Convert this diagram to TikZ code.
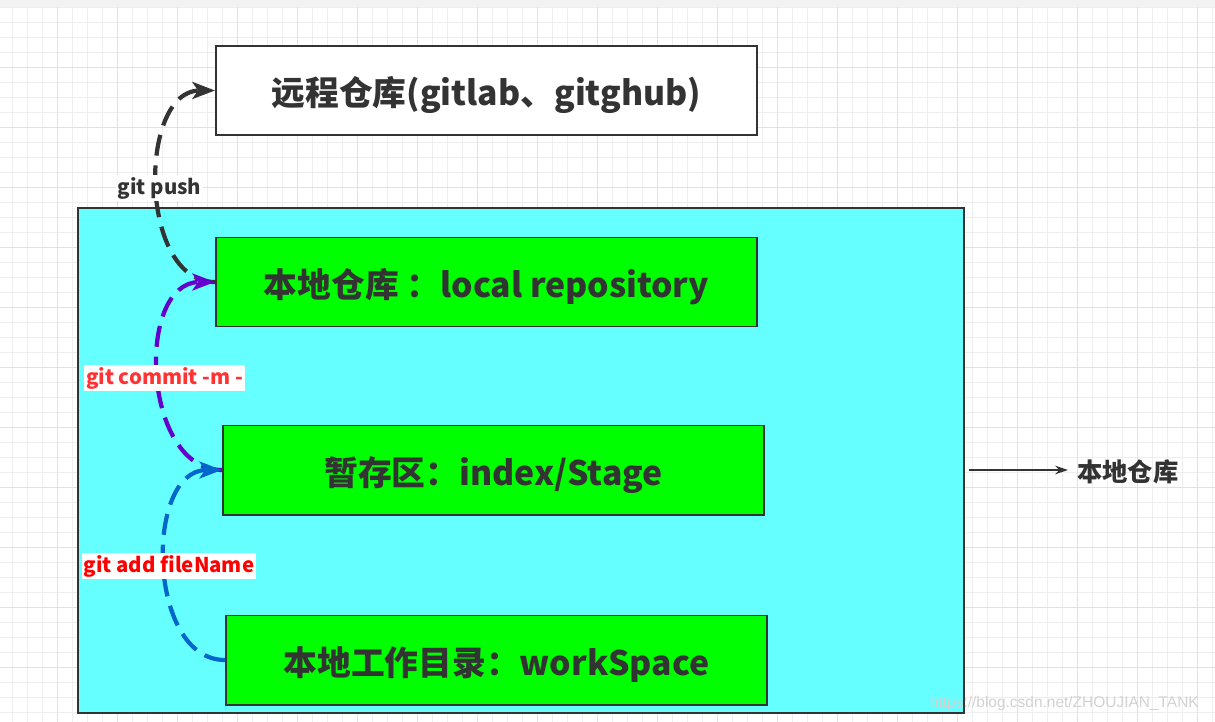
\documentclass[tikz,border=0pt]{standalone}
\usepackage{fontspec}
\setmainfont{Noto Sans CJK SC}
\setsansfont{Liberation Sans}
\definecolor{mydark}{RGB}{51,51,51}
\definecolor{mycyan}{RGB}{102,255,255}
\definecolor{mygreen}{RGB}{0,255,0}
\definecolor{mypurple}{RGB}{102,0,204}
\definecolor{myblue}{RGB}{0,102,204}
\definecolor{myred}{RGB}{255,51,51}
\definecolor{gridminor}{RGB}{238,238,238}
\definecolor{gridmajor}{RGB}{225,225,225}
\usetikzlibrary{arrows.meta, positioning}
\tikzset{
  bxW/.style={draw=mydark, fill=white, line width=1.4pt,
              minimum width=13.525cm, minimum height=2.225cm,
              text height=22pt, text depth=0pt,
              font=\fontsize{24}{28}\selectfont\bfseries, text=mydark},
  bxG/.style={bxW, fill=mygreen},
  flow/.style={-{Stealth[length=16pt, width=12pt, inset=4pt]}, line width=3pt,
               dash pattern=on 15pt off 7pt},
  lbl/.style={fill=white, inner xsep=1.5pt, inner ysep=1pt,
              text height=13pt, text depth=4pt,
              font=\fontsize{14.5}{16}\selectfont\bfseries},
}

\begin{document}
\begin{tikzpicture}[x=0.025cm, y=-0.025cm]
  \useasboundingbox (0,0) rectangle (1215,722);
  % paper with grid
  \fill[white] (0,0) rectangle (1215,722);
  \fill[gray!10] (0,0) rectangle (1215,7);
  \foreach \xx in {12.7,27.7,...,1215}
    \draw[gridminor, line width=0.7pt] (\xx,7) -- (\xx,722);
  \foreach \yy in {7.3,22.3,...,722}
    \draw[gridminor, line width=0.7pt] (0,\yy) -- (1215,\yy);
  \foreach \xx in {57.7,117.7,...,1215}
    \draw[gridmajor, line width=0.7pt] (\xx,7) -- (\xx,722);
  \foreach \yy in {67.7,127.7,...,722}
    \draw[gridmajor, line width=0.7pt] (0,\yy) -- (1215,\yy);

  % remote and local areas
  \node[bxW] (remote) at (486.5,90.5) {远程仓库(gitlab、gitghub)};
  \node[draw=mydark, fill=mycyan, line width=1.4pt,
        minimum width=22.15cm, minimum height=12.625cm] (area) at (521,460.5) {};
  \node[bxG] (local) at (486.5,282) {本地仓库 ：local repository};
  \node[bxG] (stage) at (493.5,470) {暂存区：index/Stage};
  \node[bxG] (work) at (496.5,660) {本地工作目录：workSpace};
  \node[font=\fontsize{18}{20}\selectfont\bfseries, text=mydark,
        text height=16pt, text depth=0pt,
        inner sep=6.4pt, anchor=west] (side) at (1068,470) {本地仓库};
  \draw[-{Stealth[length=9pt, width=6pt]}, mydark, line width=1.4pt,
        shorten <=3pt] (area.east |- side.west) -- (side.west);

  % git commands
  \draw[flow, mydark] (local.west) .. controls +(-77,0) and +(-77,0) .. (remote.west);
  \draw[flow, mypurple] (stage.west) .. controls +(-80,0) and +(-80,0) .. (local.west);
  \draw[flow, myblue] (work.west) .. controls +(-78,0) and +(-78,0) .. (stage.west);
  \node[lbl, text=mydark] (pushlbl) at (159.5,188) {git push};
  \node[lbl, text=myred] (commitlbl) at (164.5,378) {git commit -m -};
  \node[lbl, text=red] (addlbl) at (169,566) {git add fileName};

  \node[font=\sffamily\fontsize{11}{12}\selectfont, text=gray!35,
        anchor=west] (mark) at (925,703) {https://blog.csdn.net/ZHOUJIAN\_TANK};
\end{tikzpicture}
\end{document}
